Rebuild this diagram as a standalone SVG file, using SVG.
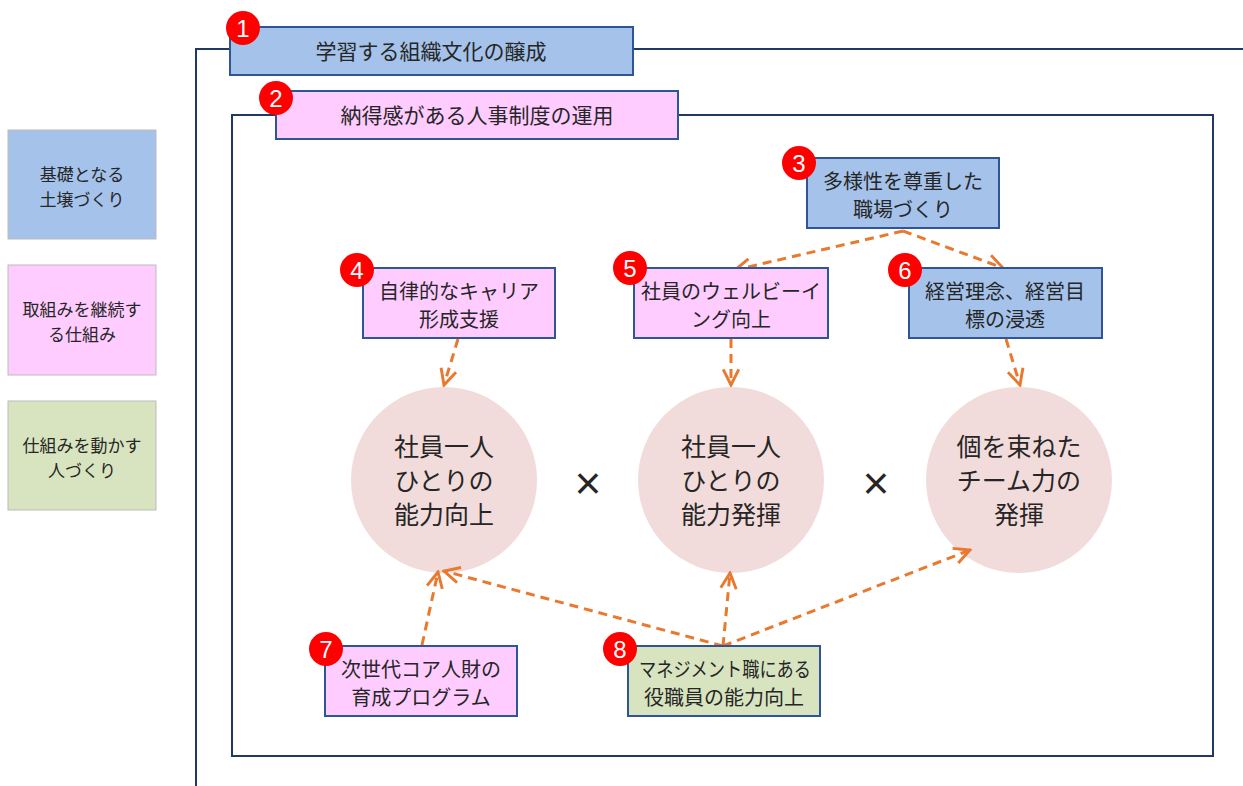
<svg xmlns="http://www.w3.org/2000/svg" width="1243" height="786" viewBox="0 0 1243 786">
<style>
text{font-family:"Noto Sans CJK JP","Noto Sans CJK SC",sans-serif;fill:#262626;text-anchor:middle}
.frame{fill:none;stroke:#1f3864;stroke-width:2}
.blue{fill:#a4c2ea;stroke:#2f5597;stroke-width:2}
.pink{fill:#ffccff;stroke:#2f5597;stroke-width:2}
.green{fill:#d8e4bf;stroke:#2f5597;stroke-width:2}
.lblue{fill:#a4c2ea;stroke:#bbb;stroke-width:1}
.lpink{fill:#ffccff;stroke:#bbb;stroke-width:1}
.lgreen{fill:#d8e4bf;stroke:#bbb;stroke-width:1}
.circ{fill:#f2dcdb}
.badge{fill:#ff0000}
.bt{fill:#fff;font-family:"Liberation Sans",sans-serif;font-size:24px}
.t{font-size:20px}
.tt{font-size:21px}
.lt{font-size:17px}
.ct{font-size:25px}
.x{font-size:46px;font-family:"Liberation Sans",sans-serif;font-weight:300}
.arr{fill:none;stroke:#e9792e;stroke-width:3;stroke-dasharray:9,6;marker-end:url(#ah)}
</style>
<defs>
<marker id="ah" viewBox="0 0 10 10" refX="9" refY="5" markerWidth="6.5" markerHeight="6.5" orient="auto" markerUnits="strokeWidth">
<polyline points="1,1 9,5 1,9" fill="none" stroke="#e9792e" stroke-width="1.5"/>
</marker>
</defs>
<rect width="1243" height="786" fill="#fff"/>
<g id="legend">
<g id="legend1"><rect class="lblue" x="8" y="130" width="148" height="109"/><text class="lt" x="82" y="181">基礎となる</text><text class="lt" x="82" y="206">土壌づくり</text></g>
<g id="legend2"><rect class="lpink" x="8" y="265" width="148" height="110"/><text class="lt" x="82" y="316">取組みを継続す</text><text class="lt" x="82" y="341">る仕組み</text></g>
<g id="legend3"><rect class="lgreen" x="8" y="401" width="148" height="109"/><text class="lt" x="82" y="452">仕組みを動かす</text><text class="lt" x="82" y="477">人づくり</text></g>
</g>
<g id="frames">
<polyline class="frame" points="230,49 196,49 196,790"/>
<line class="frame" x1="633" y1="49" x2="1245" y2="49"/>
<polyline class="frame" points="276,115 232,115 232,756 1213,756 1213,115 678,115"/>
</g>
<g id="n1"><rect class="blue" x="230" y="27" width="403" height="48"/><text class="tt" x="431" y="59">学習する組織文化の醸成</text><circle class="badge" cx="243" cy="28" r="17"/><text class="bt" x="243" y="37">1</text></g>
<g id="n2"><rect class="pink" x="276" y="91" width="402" height="48"/><text class="tt" x="477" y="123">納得感がある人事制度の運用</text><circle class="badge" cx="276" cy="98" r="17"/><text class="bt" x="276" y="107">2</text></g>
<g id="circles">
<g id="c1"><circle class="circ" cx="444" cy="480" r="93"/><text class="ct" x="444" y="456">社員一人</text><text class="ct" x="444" y="490">ひとりの</text><text class="ct" x="444" y="524">能力向上</text></g>
<g id="c2"><circle class="circ" cx="731" cy="480" r="93"/><text class="ct" x="731" y="456">社員一人</text><text class="ct" x="731" y="490">ひとりの</text><text class="ct" x="731" y="524">能力発揮</text></g>
<g id="c3"><circle class="circ" cx="1019" cy="480" r="93"/><text class="ct" x="1019" y="456">個を束ねた</text><text class="ct" x="1019" y="490">チーム力の</text><text class="ct" x="1019" y="524">発揮</text></g>
<text class="x" x="588" y="499">×</text>
<text class="x" x="876" y="499">×</text>
</g>
<g id="connectors">
<line class="arr" x1="903" y1="231" x2="735" y2="270"/>
<line class="arr" x1="903" y1="231" x2="1003" y2="268"/>
<line class="arr" x1="458" y1="339" x2="444" y2="385"/>
<line class="arr" x1="731" y1="339" x2="731" y2="385"/>
<line class="arr" x1="1006" y1="339" x2="1020" y2="385"/>
<line class="arr" x1="422" y1="645" x2="438" y2="572"/>
<line class="arr" x1="723" y1="646" x2="444" y2="571"/>
<line class="arr" x1="723" y1="646" x2="730" y2="573"/>
<line class="arr" x1="723" y1="646" x2="970" y2="550"/>
</g>
<g id="n3"><rect class="blue" x="807" y="158" width="192" height="70"/><text class="t" x="903" y="189">多様性を尊重した</text><text class="t" x="903" y="217">職場づくり</text><circle class="badge" cx="799" cy="163" r="17"/><text class="bt" x="799" y="172">3</text></g>
<g id="n4"><rect class="pink" x="363" y="268" width="192" height="70"/><text class="t" x="459" y="299">自律的なキャリア</text><text class="t" x="459" y="327">形成支援</text><circle class="badge" cx="357" cy="270" r="17"/><text class="bt" x="357" y="279">4</text></g>
<g id="n5"><rect class="pink" x="634" y="268" width="194" height="70"/><text class="t" x="731" y="299">社員のウェルビーイ</text><text class="t" x="731" y="327">ング向上</text><circle class="badge" cx="630" cy="268" r="17"/><text class="bt" x="630" y="277">5</text></g>
<g id="n6"><rect class="blue" x="909" y="268" width="193" height="70"/><text class="t" x="1005" y="299">経営理念、経営目</text><text class="t" x="1005" y="327">標の浸透</text><circle class="badge" cx="905" cy="270" r="17"/><text class="bt" x="905" y="279">6</text></g>
<g id="n7"><rect class="pink" x="325" y="646" width="192" height="70"/><text class="t" x="421" y="677">次世代コア人財の</text><text class="t" x="421" y="705">育成プログラム</text><circle class="badge" cx="326" cy="649" r="17"/><text class="bt" x="326" y="658">7</text></g>
<g id="n8"><rect class="green" x="628" y="646" width="192" height="70"/><text class="t" x="725" y="677" textLength="172" lengthAdjust="spacingAndGlyphs">マネジメント職にある</text><text class="t" x="724" y="705">役職員の能力向上</text><circle class="badge" cx="620" cy="649" r="17"/><text class="bt" x="620" y="658">8</text></g>
</svg>
